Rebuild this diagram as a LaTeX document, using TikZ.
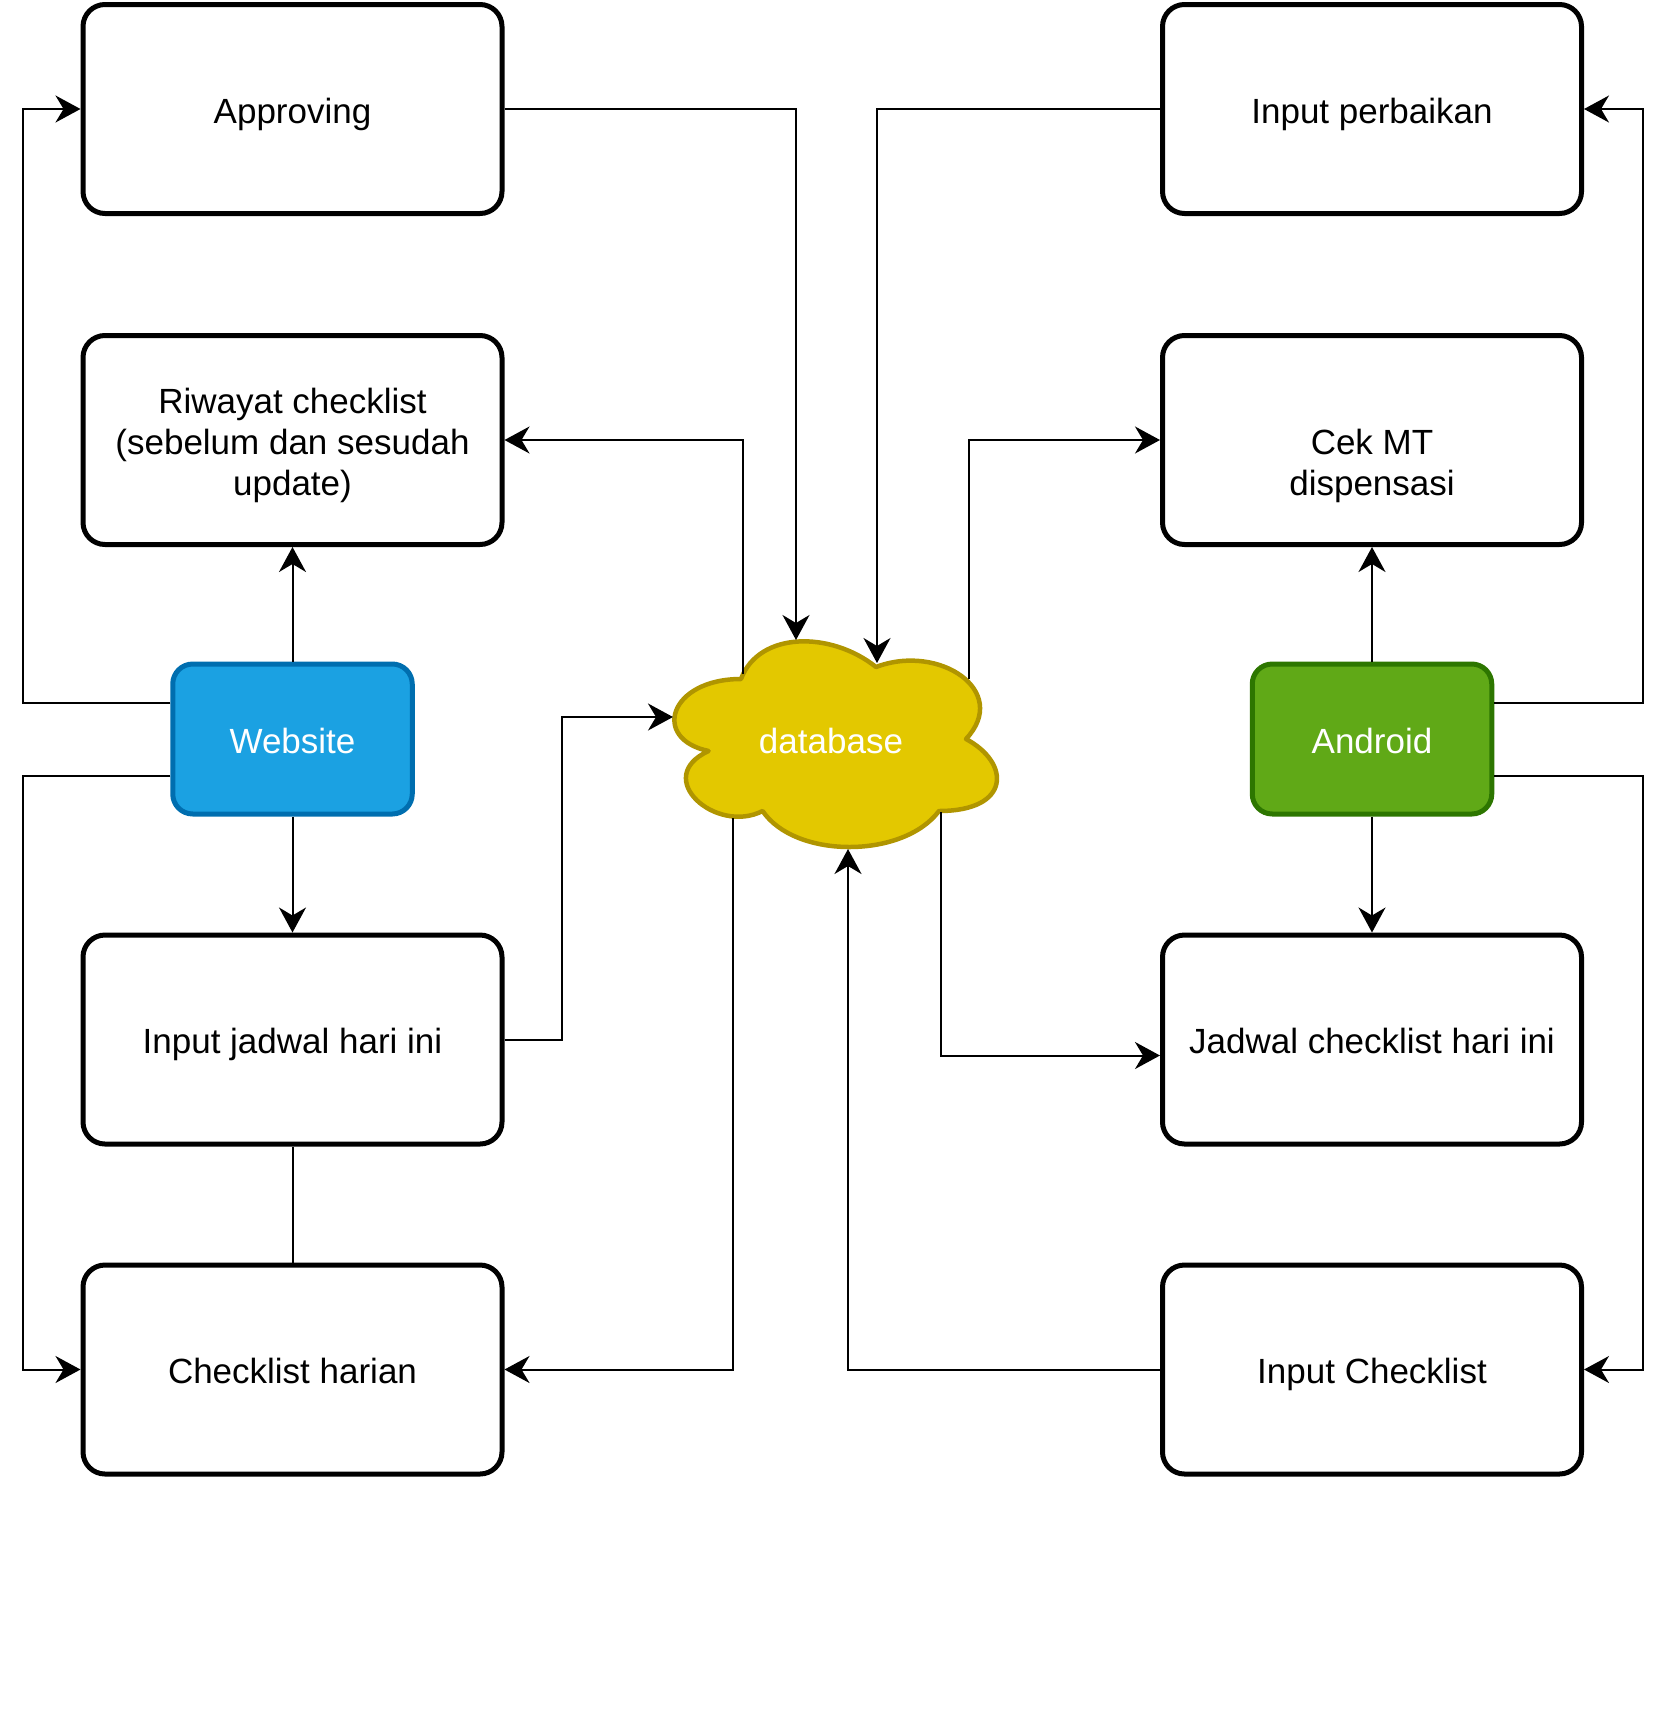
\documentclass[tikz,border=0pt]{standalone}
\usepackage{fontspec}
\setmainfont{Liberation Sans}
\usetikzlibrary{arrows.meta,calc}
\definecolor{webfill}{HTML}{1BA1E2}
\definecolor{webline}{HTML}{006EAF}
\definecolor{andfill}{HTML}{60A917}
\definecolor{andline}{HTML}{2D7600}
\definecolor{dbfill}{HTML}{E3C800}
\definecolor{dbline}{HTML}{B09500}
\begin{document}
\begin{tikzpicture}[x=0.5pt,y=-0.5pt,
  txt/.style={font=\fontsize{17.5pt}{20.5pt}\selectfont, align=center,
     text height=17.5pt, text depth=3.5pt},
  threelines/.style={text height=58.5pt},
  bigbox/.style={txt, draw=black, fill=white, line width=2.5pt, rounded corners=11pt,
     minimum width=209.5pt, minimum height=104.5pt, inner sep=0pt},
  srcbox/.style={txt, text=white, line width=2.5pt, rounded corners=10pt,
     minimum width=119.75pt, minimum height=75pt, inner sep=0pt},
  arr/.style={line width=1pt, -{Stealth[length=12.5pt,width=13.5pt,inset=4pt]}},
  plain/.style={line width=1pt}]
\useasboundingbox (0,0) rectangle (1671,1725);

% cloud
\draw[fill=dbfill, draw=dbline, line width=2.25pt, line join=round]
  (741,679) .. controls (669,679) and (651,739) .. (708.6,751)
  .. controls (651,777.4) and (715.8,835) .. (762.6,811)
  .. controls (795,859) and (903,859) .. (939,811)
  .. controls (1011,811) and (1011,763) .. (966,739)
  .. controls (1011,691) and (939,643) .. (876,667)
  .. controls (831,631) and (759,631) .. (741,679) -- cycle;
\node[txt, text=white, inner sep=0pt] (db) at (831,739) {database};

% named points on the cloud boundary
\coordinate (dbA) at (796,640);
\coordinate (dbB) at (877,663);
\coordinate (dbC) at (743,674);
\coordinate (dbD) at (969,679);
\coordinate (dbE) at (673,717);
\coordinate (dbF) at (733,818);
\coordinate (dbG) at (941,812);
\coordinate (dbH) at (848,849);
\coordinate (lx) at (23,0);
\coordinate (rx) at (1643,0);
\coordinate (mx) at (562,0);

% left column
\node[bigbox] (appr) at (292.5,109) {Approving};
\node[bigbox, threelines] (riw) at (292.5,440) {Riwayat checklist\\(sebelum dan sesudah\\update)};
\node[bigbox] (ijd) at (292.5,1039.5) {Input jadwal hari ini};
\node[bigbox] (chk) at (292.5,1369.5) {Checklist harian};
\node[srcbox, fill=webfill, draw=webline] (web) at (292.5,739) {Website};

% right column
\node[bigbox] (inp) at (1372,109) {Input perbaikan};
\node[bigbox, threelines] (cek) at (1372,440) {\mbox{}\\Cek MT\\dispensasi};
\node[bigbox] (jdw) at (1372,1039.5) {Jadwal checklist hari ini};
\node[bigbox] (ick) at (1372,1369.5) {Input Checklist};
\node[srcbox, fill=andfill, draw=andline] (and) at (1372,739) {Android};

% website connectors
\draw[arr] (web.north) -- (riw.south);
\draw[arr] (web.south) -- (ijd.north);
\draw[plain] (ijd.south) -- (chk.north);
\draw[arr] ([yshift=18.25pt]web.west) -| (lx |- appr.west) -- (appr.west);
\draw[arr] ([yshift=-18.25pt]web.west) -| (lx |- chk.west) -- (chk.west);

% android connectors
\draw[arr] (and.north) -- (cek.south);
\draw[arr] (and.south) -- (jdw.north);
\draw[arr] ([yshift=18.25pt]and.east) -| (rx |- inp.east) -- (inp.east);
\draw[arr] ([yshift=-18.25pt]and.east) -| (rx |- ick.east) -- (ick.east);

% database connectors
\draw[arr] (appr.east) -| (dbA);
\draw[arr] (inp.west) -| (dbB);
\draw[arr] (dbC) |- (riw.east);
\draw[arr] (dbD) |- (cek.west);
\draw[arr] (ijd.east) -- (ijd.east -| mx) |- (dbE);
\draw[arr] (dbF) |- (chk.east);
\draw[arr] (dbG) |- ([yshift=-8pt]jdw.west);
\draw[arr] (ick.west) -| (dbH);
\end{tikzpicture}
\end{document}
